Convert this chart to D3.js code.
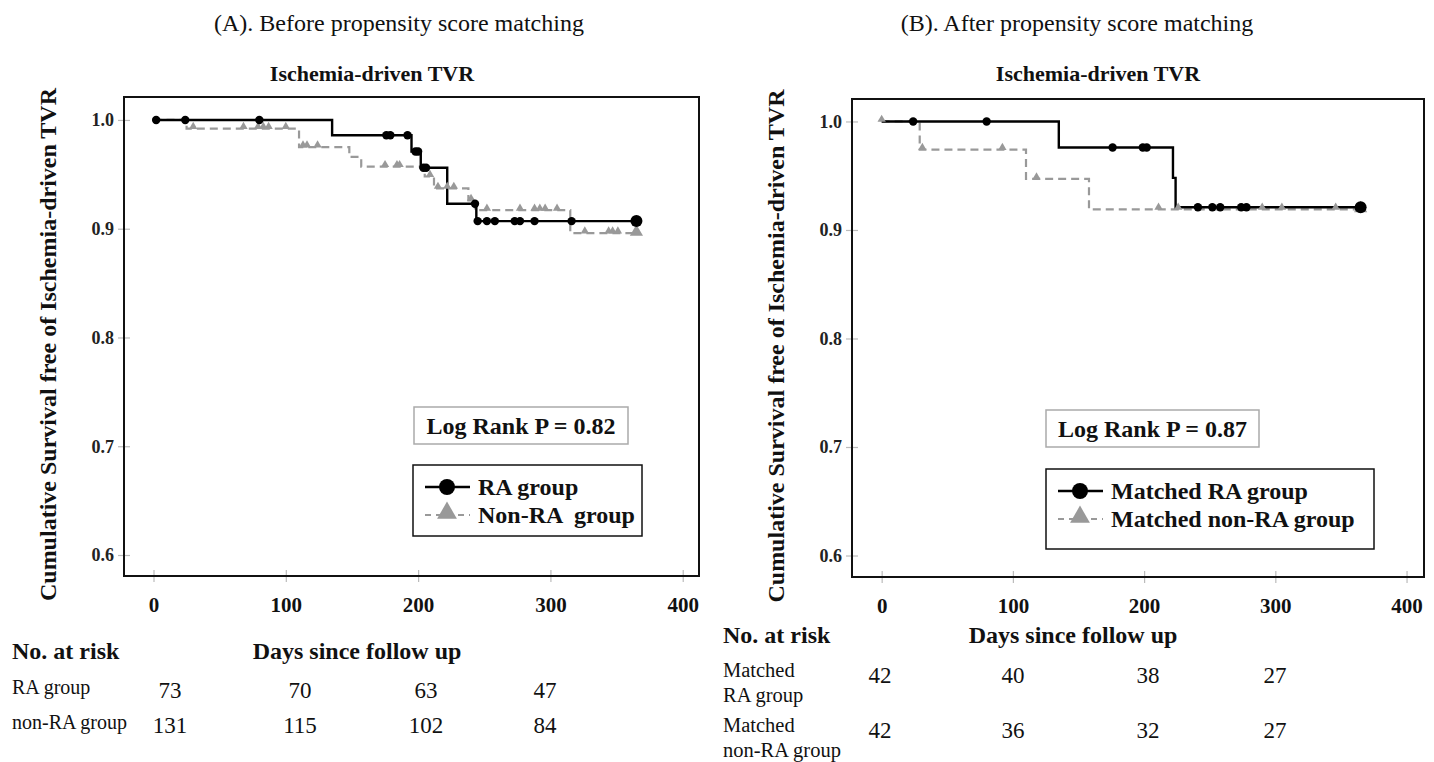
<!DOCTYPE html>
<html>
<head>
<meta charset="utf-8">
<script src="https://cdn.jsdelivr.net/npm/d3@7/dist/d3.min.js"></script>
<style>
  html, body { margin: 0; padding: 0; background: #fff; }
  svg { display: block; }
</style>
</head>
<body>
<svg id="chart" width="1434" height="762"></svg>
<script>
// ---------------- DATA ----------------
const xTicks = [0, 100, 200, 300, 400];
const yTicks = [0.6, 0.7, 0.8, 0.9, 1.0];

// Panel A: before matching  (step: [day, survival after event])
const aRASteps = [[0, 1.0], [135, 0.986], [195, 0.971], [202, 0.956], [222, 0.923], [244, 0.907]];
const aRACensor = [2, 24, 80, 176, 179, 192, 198, 200, 204, 206, 243, 245, 252, 258, 273, 277, 288, 316];
const aNonSteps = [[0, 1.0], [25, 0.992], [110, 0.975], [148, 0.966], [157, 0.957], [205, 0.948], [212, 0.937], [238, 0.926], [243, 0.917], [315, 0.896]];
const aNonCensor = [30, 68, 79, 83, 87, 100, 113, 116, 124, 175, 184, 186, 209, 215, 222, 227, 240, 252, 277, 288, 292, 296, 305, 326, 344, 347, 351];
const aEnd = 365;
const aRiskRA = [73, 70, 63, 47];
const aRiskNon = [131, 115, 102, 84];

// Panel B: after matching
const bRASteps = [[0, 1.0], [135, 0.976], [222, 0.948], [224, 0.921]];
const bRACensor = [24, 80, 176, 199, 202, 241, 252, 258, 274, 278];
const bNonSteps = [[0, 1.0], [29, 0.974], [110, 0.947], [158, 0.919]];
const bNonCensor = [0, 31, 92, 118, 211, 226, 290, 305, 346];
const bEnd = 365;
const bRiskRA = [42, 40, 38, 27];
const bRiskNon = [42, 36, 32, 27];

// ---------------- DRAW ----------------
const svg = d3.select("#chart");
const SERIF = "'Liberation Serif', 'Times New Roman', serif";

function survAt(steps, t) {
  let s = steps[0][1];
  for (const st of steps) { if (st[0] <= t) s = st[1]; }
  return s;
}

function txt(g, x, y, s, size, bold, anchor) {
  return g.append("text").attr("x", x).attr("y", y).attr("text-anchor", anchor || "start")
    .style("font-family", SERIF).style("font-size", size + "px").style("font-weight", bold ? "bold" : "normal")
    .style("white-space", "pre").attr("fill", "#111").text(s);
}

function panel(cfg) {
  const x = d3.scaleLinear().domain(cfg.xDomain).range([cfg.left, cfg.right]);
  const y = d3.scaleLinear().domain(cfg.yDomain).range([cfg.bottom, cfg.top]);
  const g = svg.append("g");

  // headings
  txt(g, cfg.headX, 31, cfg.heading, 24, false, "middle");
  txt(g, cfg.subX, 81, "Ischemia-driven TVR", 22, true, "middle");

  // y title
  g.append("text").attr("transform", `translate(${cfg.yTitleX},${(cfg.top + cfg.bottom) / 2 + 8}) rotate(-90)`)
    .attr("text-anchor", "middle").style("font-family", SERIF).style("font-size", "24px").style("font-weight", "bold")
    .attr("fill", "#111").text("Cumulative Survival free of Ischemia-driven TVR");

  // axes ticks
  const xa = g.append("g").attr("transform", `translate(0,${cfg.bottom})`)
    .call(d3.axisBottom(x).tickValues(xTicks).tickSizeInner(6).tickSizeOuter(0).tickPadding(15));
  xa.select(".domain").remove();
  xa.selectAll(".tick line").attr("y1", -6).attr("y2", 6).attr("stroke", "#bbb").attr("stroke-width", 1.2);
  xa.selectAll(".tick text").style("font-family", SERIF).style("font-size", "21px").style("font-weight", "bold").attr("fill", "#111");

  const ya = g.append("g").attr("transform", `translate(${cfg.left},0)`)
    .call(d3.axisLeft(y).tickValues(yTicks).tickFormat(d3.format(".1f")).tickSizeInner(6).tickSizeOuter(0).tickPadding(4));
  ya.select(".domain").remove();
  ya.selectAll(".tick line").attr("x1", -6).attr("x2", 6).attr("stroke", "#bbb").attr("stroke-width", 1.2);
  ya.selectAll(".tick text").style("font-family", SERIF).style("font-size", "18px").style("font-weight", "bold").attr("fill", "#222");

  // frame
  g.append("rect").attr("x", cfg.left).attr("y", cfg.top).attr("width", cfg.right - cfg.left).attr("height", cfg.bottom - cfg.top)
    .attr("fill", "none").attr("stroke", "#111").attr("stroke-width", 2);

  function stepPath(steps, end) {
    const pts = [];
    steps.forEach((s, i) => {
      if (i > 0) pts.push([s[0], steps[i - 1][1]]);
      pts.push([s[0], s[1]]);
    });
    pts.push([end, steps[steps.length - 1][1]]);
    return d3.line().x(d => x(d[0])).y(d => y(d[1]))(pts);
  }

  // non-RA gray dashed
  g.append("path").attr("d", stepPath(cfg.nonSteps, cfg.end)).attr("fill", "none")
    .attr("stroke", "#999").attr("stroke-width", 2.2).attr("stroke-dasharray", "8,5");
  // RA black
  g.append("path").attr("d", stepPath(cfg.raSteps, cfg.end)).attr("fill", "none")
    .attr("stroke", "#000").attr("stroke-width", 2.4);

  const tri = d3.symbol().type(d3.symbolTriangle);
  g.selectAll(".tri").data(cfg.nonCensor).enter().append("path")
    .attr("transform", d => `translate(${x(d)},${y(survAt(cfg.nonSteps, d)) - 2})`)
    .attr("d", tri.size(30)()).attr("fill", "#999");
  g.append("path").attr("transform", `translate(${x(cfg.end)},${y(survAt(cfg.nonSteps, cfg.end)) - 1})`)
    .attr("d", tri.size(75)()).attr("fill", "#999");

  g.selectAll(".dot").data(cfg.raCensor).enter().append("circle")
    .attr("cx", d => x(d)).attr("cy", d => y(survAt(cfg.raSteps, d))).attr("r", 4.2).attr("fill", "#000");
  g.append("circle").attr("cx", x(cfg.end)).attr("cy", y(survAt(cfg.raSteps, cfg.end))).attr("r", 6).attr("fill", "#000");

  // Log rank box
  const lr = cfg.lr;
  g.append("rect").attr("x", lr[0]).attr("y", lr[1]).attr("width", lr[2]).attr("height", lr[3])
    .attr("fill", "#fff").attr("stroke", "#aaa").attr("stroke-width", 1.5);
  txt(g, lr[0] + lr[2] / 2, lr[1] + lr[3] / 2 + 8, cfg.lrText, 24, true, "middle");

  // legend
  const lg = cfg.lg;
  g.append("rect").attr("x", lg[0]).attr("y", lg[1]).attr("width", lg[2]).attr("height", lg[3])
    .attr("fill", "#fff").attr("stroke", "#111").attr("stroke-width", 1.5);
  const r1 = lg[1] + 22, r2 = lg[1] + 50;
  g.append("line").attr("x1", lg[0] + 12).attr("x2", lg[0] + 57).attr("y1", r1).attr("y2", r1).attr("stroke", "#000").attr("stroke-width", 2.4);
  g.append("circle").attr("cx", lg[0] + 34).attr("cy", r1).attr("r", 8).attr("fill", "#000");
  g.append("line").attr("x1", lg[0] + 12).attr("x2", lg[0] + 57).attr("y1", r2).attr("y2", r2).attr("stroke", "#999").attr("stroke-width", 2.2).attr("stroke-dasharray", "6,5");
  g.append("path").attr("transform", `translate(${lg[0] + 34},${r2 - 2})`).attr("d", tri.size(170)()).attr("fill", "#999");
  txt(g, lg[0] + 65, r1 + 8, cfg.lgText[0], 24, true);
  txt(g, lg[0] + 65, r2 + 8, cfg.lgText[1], 24, true);

  // risk table
  const rt = cfg.rt;
  txt(g, rt.labelX, rt.headY, "No. at risk", 24, true);
  txt(g, rt.daysX, rt.headY, "Days since follow up", 24, true, "middle");
  rt.rows.forEach(row => {
    row.label.forEach((l, i) => txt(g, rt.labelX, row.labelY + i * 25, l, rt.labelSize, false));
    row.vals.forEach((v, i) => txt(g, rt.cols[i], row.numY, v, 23, false, "middle"));
  });
}

panel({
  left: 124, right: 699, top: 97, bottom: 576,
  xDomain: [-22.3, 412.3], yDomain: [0.5807, 1.0211],
  heading: "(A). Before propensity score matching", headX: 399, subX: 372, yTitleX: 56,
  raSteps: aRASteps, raCensor: aRACensor, nonSteps: aNonSteps, nonCensor: aNonCensor, end: aEnd,
  lr: [414, 407, 214, 37], lrText: "Log Rank P = 0.82",
  lg: [413, 465, 229, 71], lgText: ["RA group", "Non-RA  group"],
  rt: { labelX: 12, headY: 659, daysX: 357, labelSize: 20, cols: [170, 300, 426, 545],
        rows: [{ label: ["RA group"], labelY: 694, vals: aRiskRA, numY: 698 },
               { label: ["non-RA group"], labelY: 729, vals: aRiskNon, numY: 733 }] }
});

panel({
  left: 852, right: 1424, top: 99, bottom: 577,
  xDomain: [-22.6, 413.3], yDomain: [0.5802, 1.0207],
  heading: "(B). After propensity score matching", headX: 1077, subX: 1098, yTitleX: 784,
  raSteps: bRASteps, raCensor: bRACensor, nonSteps: bNonSteps, nonCensor: bNonCensor, end: bEnd,
  lr: [1046, 410, 213, 37], lrText: "Log Rank P = 0.87",
  lg: [1046, 469, 328, 80], lgText: ["Matched RA group", "Matched non-RA group"],
  rt: { labelX: 723, headY: 643, daysX: 1073, labelSize: 20.5, cols: [880, 1013, 1148, 1275],
        rows: [{ label: ["Matched", "RA group"], labelY: 677, vals: bRiskRA, numY: 683 },
               { label: ["Matched", "non-RA group"], labelY: 732, vals: bRiskNon, numY: 738 }] }
});
</script>
</body>
</html>
